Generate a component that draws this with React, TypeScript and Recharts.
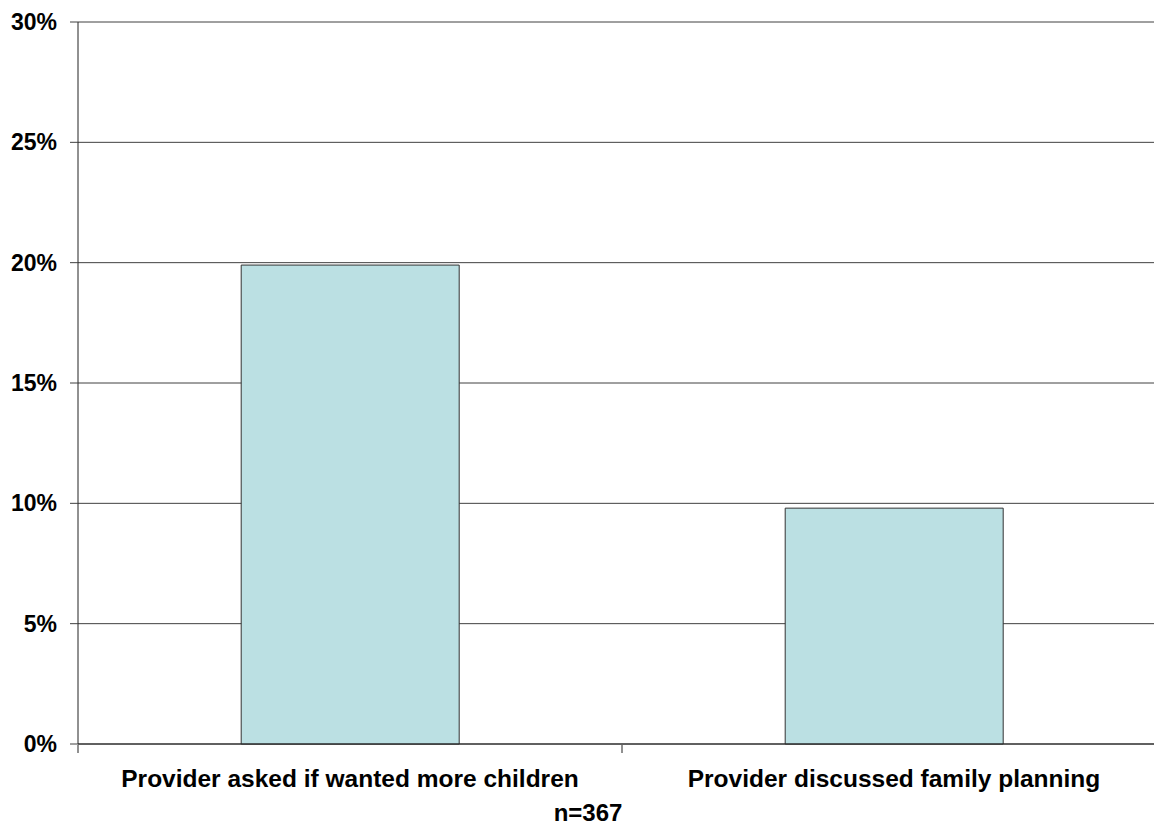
import React from "react";
import { BarChart, Bar, XAxis, YAxis, CartesianGrid } from "recharts";

const categories = [
  "Provider asked if wanted more children",
  "Provider discussed family planning",
];
const shares = [19.9, 9.8];
const yTicks = [0, 5, 10, 15, 20, 25, 30];
const boundaryTicks = [0, 1, 2];
const sampleNote = "n=367";

const data = categories.map((name, i) => ({ name, value: shares[i], pos: i + 0.5 }));

const FONT = "'Liberation Sans', Arial, sans-serif";

const CategoryTick = (props: any) => {
  const { x, y, payload } = props;
  return (
    <text
      x={x}
      y={y + 43}
      textAnchor="middle"
      fontFamily={FONT}
      fontWeight="bold"
      fontSize={24.5}
      fill="#000"
    >
      {payload.value}
    </text>
  );
};

const EmptyTick = () => <g />;

export default function App() {
  return (
    <div
      style={{
        position: "absolute",
        left: 0,
        top: 0,
        width: 1154,
        height: 826,
        overflow: "hidden",
        background: "#fff",
      }}
    >
      <BarChart
        width={1170}
        height={826}
        data={data}
        margin={{ top: 22, right: 4, left: 0, bottom: 0 }}
        barCategoryGap="30%"
      >
        <CartesianGrid vertical={false} stroke="#404040" strokeWidth={1} />
        <XAxis
          xAxisId="edges"
          type="number"
          dataKey="pos"
          domain={[0, 2]}
          ticks={boundaryTicks}
          interval={0}
          orientation="bottom"
          height={81}
          axisLine={false}
          tick={<EmptyTick />}
          tickSize={8}
          tickLine={{ stroke: "#222", strokeWidth: 1 }}
        />
        <XAxis
          xAxisId="cat"
          dataKey="name"
          type="category"
          orientation="bottom"
          height={1}
          axisLine={{ stroke: "#222", strokeWidth: 1 }}
          tickLine={false}
          tickSize={0}
          tickMargin={0}
          tick={<CategoryTick />}
          interval={0}
        />
        <YAxis
          width={78}
          domain={[0, 30]}
          ticks={yTicks}
          interval={0}
          tickFormatter={(v: number) => `${v}%`}
          axisLine={{ stroke: "#222", strokeWidth: 1 }}
          tickLine={{ stroke: "#404040", strokeWidth: 1 }}
          tickSize={8}
          tickMargin={13}
          tick={{ fontFamily: FONT, fontWeight: "bold", fontSize: 23, fill: "#000" }}
        />
        <Bar
          xAxisId="cat"
          dataKey="value"
          fill="#BBE0E3"
          stroke="#333"
          strokeWidth={1}
          isAnimationActive={false}
        />
        <text
          x={588}
          y={821}
          textAnchor="middle"
          fontFamily={FONT}
          fontWeight="bold"
          fontSize={24}
          fill="#000"
        >
          {sampleNote}
        </text>
      </BarChart>
    </div>
  );
}
